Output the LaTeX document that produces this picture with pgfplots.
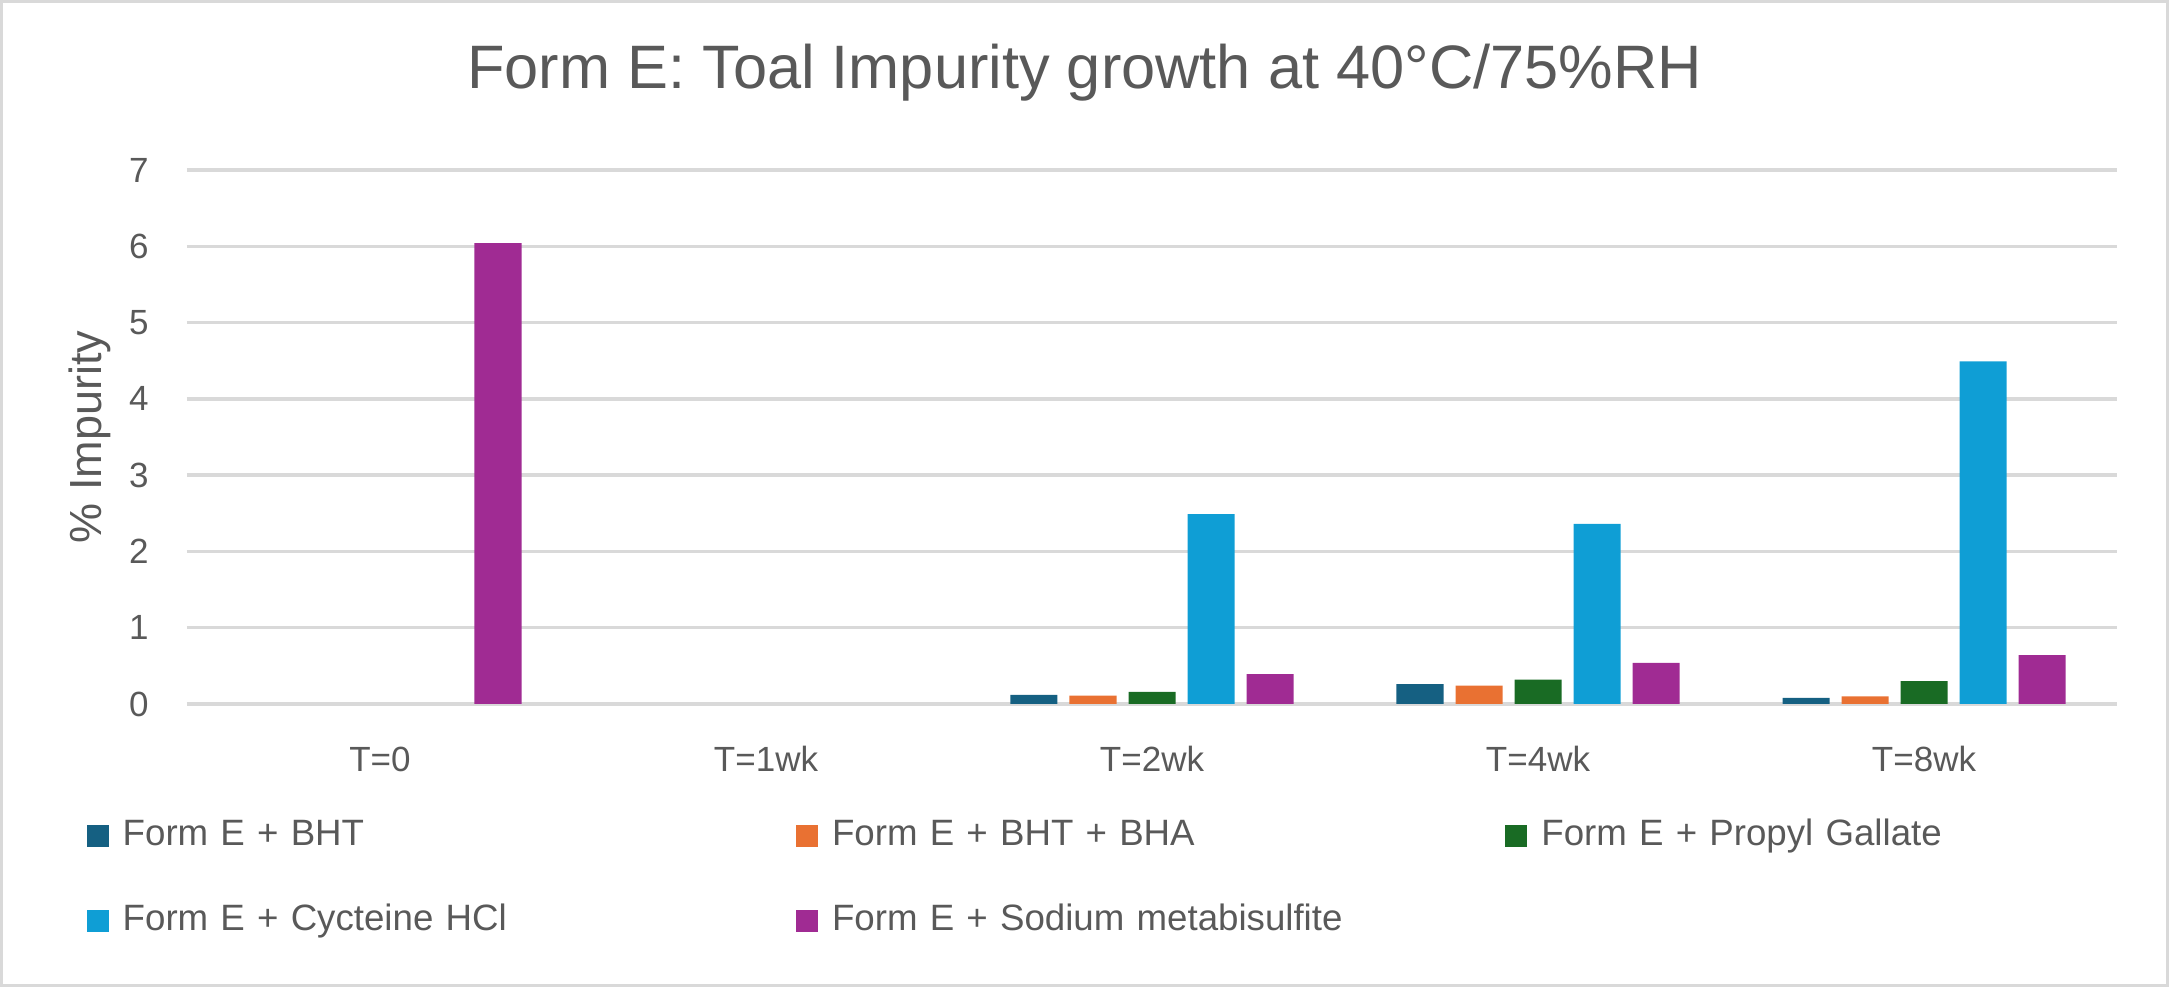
\documentclass[border=0pt]{standalone}
\usepackage{pgfplots}
\pgfplotsset{compat=1.18}
\usepackage{fontspec}
\setmainfont{Liberation Sans}

\definecolor{cBHT}{HTML}{156082}
\definecolor{cBHA}{HTML}{E97132}
\definecolor{cPG}{HTML}{196B24}
\definecolor{cCys}{HTML}{0F9ED5}
\definecolor{cNa}{HTML}{A02B93}
\definecolor{txt}{HTML}{595959}
\definecolor{gridc}{HTML}{D9D9D9}

\begin{document}
\begin{tikzpicture}
% chart frame (1 px = 0.3pt)
\useasboundingbox (0pt,0pt) rectangle (650.7pt,296.1pt);
\draw[gridc, line width=0.9pt] (0.45pt,0.45pt) rectangle (650.25pt,295.65pt);
\node[text=txt, font=\fontsize{18.4}{21}\selectfont, anchor=center] at (325.35pt,274.4pt)
  {Form E: Toal Impurity growth at 40°C/75\%RH};
\begin{axis}[
    at={(56.1pt,84.9pt)}, anchor=south west,
    scale only axis, width=579pt, height=160.2pt,
    ybar=3.6pt, bar width=14.1pt,
    xmin=-0.5, xmax=4.5, ymin=0, ymax=7,
    xtick={0,1,2,3,4},
    xticklabels={T=0, T=1wk, T=2wk, T=4wk, T=8wk},
    ytick={0,1,...,7},
    axis x line*=bottom, axis y line*=left,
    x axis line style={draw=gridc, line width=1pt, -},
    y axis line style={draw=none},
    major tick length=0pt,
    xmajorgrids=false, ymajorgrids=true,
    grid style={draw=gridc, line width=1pt},
    tick label style={text=txt, font=\fontsize{10.5}{12}\selectfont},
    /pgf/number format/assume math mode=true,
    xticklabel style={anchor=base, yshift=-20.4pt},
    yticklabel style={anchor=east, xshift=-8pt},
    ylabel={\% Impurity},
    every axis y label/.style={at={(axis description cs:-0.0503,0.5)}, rotate=90,
      anchor=center, text=txt, font=\fontsize{13.5}{15}\selectfont},
    legend columns=3,
    legend cell align=left,
    legend style={draw=none, fill=none, inner sep=0pt,
      at={(-0.0523,-0.1985)}, anchor=north west,
      font=\fontsize{11}{13}\selectfont, text=txt,
      nodes={text width=200pt, text height=8.5pt, text depth=3pt},
      row sep=10pt,
      /tikz/every odd column/.append style={column sep=2.2pt}},
    legend image code/.code={\fill[#1] (0pt,-3.3pt) rectangle (6.6pt,3.3pt);},
]
\addplot[fill=cBHT, draw=none] coordinates {(2,0.12) (3,0.26) (4,0.08)};
\addlegendentry{Form E + BHT}
\addplot[fill=cBHA, draw=none] coordinates {(2,0.11) (3,0.24) (4,0.10)};
\addlegendentry{Form E + BHT + BHA}
\addplot[fill=cPG, draw=none] coordinates {(2,0.16) (3,0.32) (4,0.30)};
\addlegendentry{Form E + Propyl Gallate}
\addplot[fill=cCys, draw=none] coordinates {(2,2.49) (3,2.36) (4,4.49)};
\addlegendentry{Form E + Cycteine HCl}
\addplot[fill=cNa, draw=none] coordinates {(0,6.04) (2,0.39) (3,0.54) (4,0.64)};
\addlegendentry{Form E + Sodium metabisulfite}
\end{axis}
\end{tikzpicture}
\end{document}
